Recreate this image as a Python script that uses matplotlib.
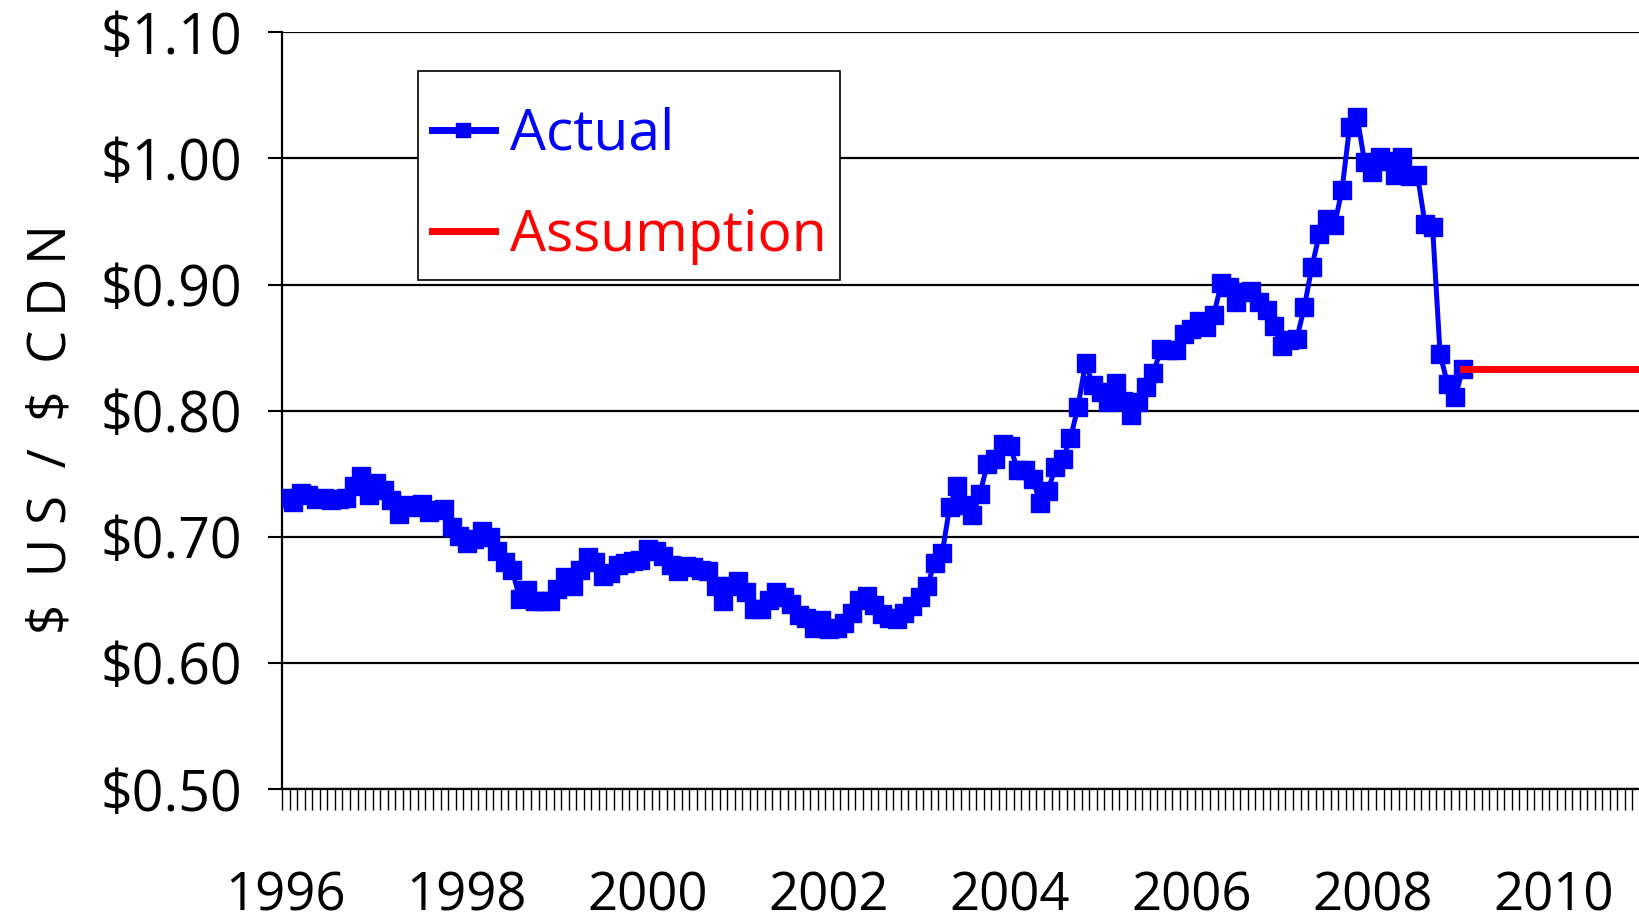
import numpy as np
import matplotlib
matplotlib.use("Agg")
import matplotlib.pyplot as plt
from matplotlib.patches import Rectangle
from matplotlib.ticker import FixedLocator, StrMethodFormatter

plt.rcParams['font.family'] = ['Open Sans', 'DejaVu Sans']

# monthly average, $US per $CDN (Jan 1996 .. Jan 2009)
y1996 = [0.731, 0.728, 0.735, 0.733, 0.730, 0.731, 0.729, 0.730, 0.731, 0.740, 0.748, 0.733]
y1997 = [0.743, 0.737, 0.729, 0.718, 0.725, 0.724, 0.726, 0.720, 0.721, 0.722, 0.708, 0.701]
y1998 = [0.695, 0.698, 0.705, 0.700, 0.689, 0.680, 0.674, 0.651, 0.658, 0.649, 0.649, 0.649]
y1999 = [0.659, 0.668, 0.661, 0.674, 0.684, 0.680, 0.669, 0.671, 0.678, 0.679, 0.681, 0.682]
y2000 = [0.690, 0.689, 0.685, 0.678, 0.673, 0.677, 0.676, 0.674, 0.673, 0.661, 0.649, 0.661]
y2001 = [0.665, 0.656, 0.643, 0.643, 0.650, 0.656, 0.652, 0.647, 0.638, 0.636, 0.628, 0.634]
y2002 = [0.627, 0.628, 0.632, 0.640, 0.650, 0.653, 0.646, 0.639, 0.636, 0.635, 0.640, 0.645]
y2003 = [0.652, 0.661, 0.679, 0.687, 0.724, 0.740, 0.725, 0.717, 0.734, 0.758, 0.762, 0.774]
y2004 = [0.772, 0.753, 0.753, 0.746, 0.727, 0.736, 0.755, 0.762, 0.778, 0.803, 0.838, 0.820]
y2005 = [0.815, 0.807, 0.822, 0.808, 0.797, 0.807, 0.819, 0.830, 0.849, 0.848, 0.848, 0.861]
y2006 = [0.865, 0.871, 0.866, 0.876, 0.901, 0.898, 0.886, 0.894, 0.895, 0.886, 0.880, 0.867]
y2007 = [0.851, 0.856, 0.857, 0.882, 0.914, 0.940, 0.952, 0.947, 0.975, 1.025, 1.033, 0.997]
y2008 = [0.989, 1.001, 0.998, 0.987, 1.001, 0.986, 0.987, 0.948, 0.946, 0.845, 0.821, 0.811]
y2009 = [0.833]

assumption_value = 0.833
n_months = 180  # Jan 1996 .. Dec 2010
year_labels = ['1996', '1998', '2000', '2002', '2004', '2006', '2008', '2010']
y_ticks = [0.50, 0.60, 0.70, 0.80, 0.90, 1.00, 1.10]

actual = np.array(y1996 + y1997 + y1998 + y1999 + y2000 + y2001 + y2002 +
                  y2003 + y2004 + y2005 + y2006 + y2007 + y2008 + y2009)
x_act = np.arange(len(actual))
x_ass = np.arange(len(actual) - 1, n_months)
y_ass = np.full(len(x_ass), assumption_value)

W, H = 1640, 924
fig = plt.figure(figsize=(W / 100, H / 100), dpi=100)
ax = fig.add_axes([0.172, 0.146, 0.828, 0.819])

ax.plot(x_act, actual, color='#0000ff', lw=3.6, marker='s', ms=12.5,
        label='Actual', zorder=3)
ax.plot(x_ass, y_ass, color='#ff0000', lw=5, label='Assumption', zorder=3)

ax.set_xlim(-0.5, n_months - 0.5)
ax.set_ylim(0.5, 1.1)

for v in y_ticks:
    ax.axhline(v, color='black', lw=1.6, zorder=1)

ax.set_yticks(y_ticks)
ax.yaxis.set_major_formatter(StrMethodFormatter('${x:.2f}'))
ax.tick_params(axis='y', direction='out', length=10, width=1.5, labelsize=40, pad=19)

ax.set_xticks(np.arange(0, n_months, 24))
ax.set_xticklabels(year_labels)
ax.xaxis.set_minor_locator(FixedLocator(np.arange(-0.5, n_months, 1)))
ax.tick_params(axis='x', which='major', length=0, labelsize=38, pad=58)
ax.tick_params(axis='x', which='minor', direction='out', length=15, width=1.0)

for s in ['top', 'right']:
    ax.spines[s].set_visible(False)
ax.spines['left'].set_linewidth(1.6)
ax.spines['bottom'].set_linewidth(1.6)

ax.set_ylabel(r'\$  U S  /  \$  C D N', fontsize=38)
ax.yaxis.set_label_coords(-0.150, 0.476)

# legend box drawn separately so the padding matches the original
box = Rectangle((418 / W, 1 - 280 / H), 422 / W, 209 / H, transform=fig.transFigure,
                facecolor='white', edgecolor='black', lw=1.2, zorder=4, clip_on=False)
ax.add_patch(box)
leg = ax.legend(loc='upper left', bbox_to_anchor=(432 / W, 1 - 107 / H),
                bbox_transform=fig.transFigure, fontsize=41, frameon=False,
                handlelength=1.1, handletextpad=0.27, labelspacing=0.78,
                borderpad=0, markerscale=0.8, labelcolor='linecolor',
                numpoints=1, borderaxespad=0)
for line in leg.get_lines():
    line.set_linewidth(5)
leg.set_zorder(5)

fig.savefig('out.png', dpi=100)
